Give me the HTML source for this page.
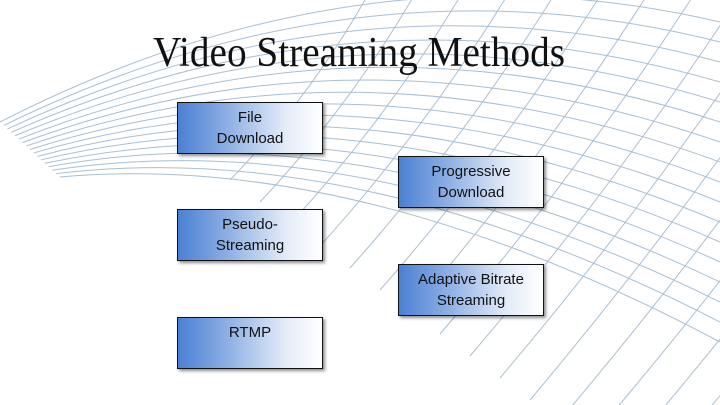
<!DOCTYPE html>
<html><head><meta charset="utf-8"><style>
html,body{margin:0;padding:0;background:#fff;}
#w{position:relative;width:720px;height:405px;overflow:hidden;background:#fff;}
svg{position:absolute;left:0;top:0;}
.b{position:absolute;width:146px;height:52px;border:1px solid #111;background:linear-gradient(to right,#4a80d4 0%,#8fb0e4 35%,#e4ecf8 75%,#fff 100%);box-shadow:2px 2px 3px rgba(0,0,0,.45);font-family:"Liberation Sans",sans-serif;font-size:15px;color:#111;text-align:center;line-height:21px;padding-top:4px;box-sizing:border-box;}
</style></head><body><div id="w">
<svg id="m" width="720" height="405" xmlns="http://www.w3.org/2000/svg"><g id="g" fill="none" stroke="#a9bfd3" stroke-width="1"></g>
<text x="153" y="66" font-family="Liberation Serif, serif" font-size="42" textLength="412" lengthAdjust="spacingAndGlyphs" fill="#111">Video Streaming Methods</text></svg>
<div class="b" style="left:177px;top:102px;">File<br>Download</div>
<div class="b" style="left:398px;top:156px;">Progressive<br>Download</div>
<div class="b" style="left:177px;top:209px;">Pseudo-<br>Streaming</div>
<div class="b" style="left:398px;top:264px;">Adaptive Bitrate<br>Streaming</div>
<div class="b" style="left:177px;top:317px;">RTMP</div>
</div>
<script>
var g=document.getElementById('g'),s='';
for(var i=0;i<=16;i++){var t=i/16;
var ay=122+55*t,my=5+200*t,cy=22+320*t;
var x0=0+60*t;
var ctrl=2*my-(ay+cy)/2;
s+='<path d="M'+x0+' '+ay+' Q360 '+ctrl+' 720 '+cy+'"/>';}
for(var j=0;j<=17;j++){var u=j/10;
var sx=230+300*u,sy=180+220*u;
if(sy>405){sx=sx+(sy-405)*0.75; sy=405;}
var ex=sx+0.75*sy;
s+='<path d="M'+sx+' '+sy+' Q'+((sx+ex)/2+10)+' '+(sy/2+10)+' '+ex+' 0"/>';}
g.innerHTML=s;
</script>
</body></html>
